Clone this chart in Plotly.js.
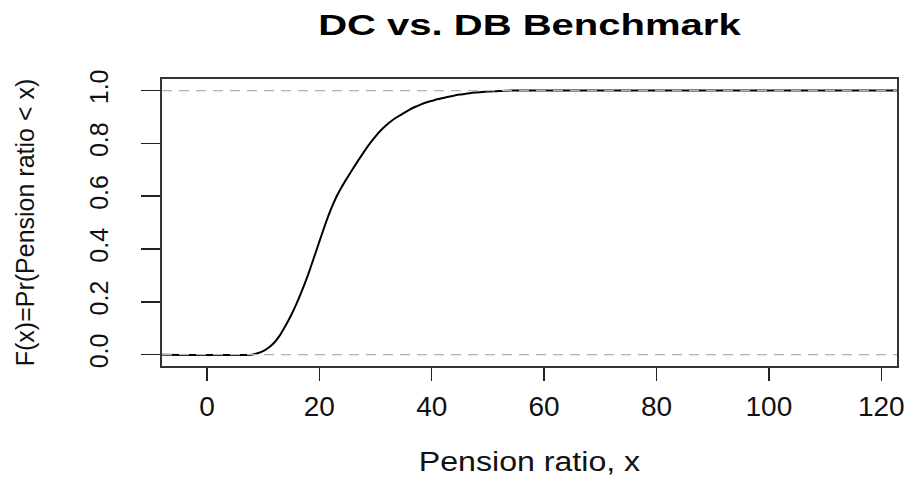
<!DOCTYPE html>
<html>
<head>
<meta charset="utf-8">
<script src="https://cdn.plot.ly/plotly-3.0.1.min.js"></script>
<style>
  html, body { margin: 0; padding: 0; background: #ffffff; }
  #chart { width: 905px; height: 477px; }
</style>
</head>
<body>
<div id="chart"></div>
<script>
// Empirical distribution of the DC/DB pension ratio, read at whole values of x
const pensionRatio = [8, 9, 10, 11, 12, 13, 14, 15, 16, 17, 18, 19, 20, 21, 22, 23, 24, 25,
  26, 27, 28, 29, 30, 31, 32, 33, 34, 35, 36, 37, 38, 39, 40, 41, 42, 43, 44, 45, 46, 47,
  48, 49, 50, 51, 52, 53, 54];
const cumulativeProb = [0.0, 0.005, 0.013, 0.027, 0.046, 0.074, 0.11, 0.15, 0.196, 0.247,
  0.303, 0.365, 0.428, 0.49, 0.547, 0.596, 0.636, 0.671, 0.705, 0.738, 0.77, 0.8, 0.827,
  0.851, 0.871, 0.888, 0.902, 0.915, 0.927, 0.938, 0.947, 0.955, 0.961, 0.967, 0.972, 0.977,
  0.981, 0.985, 0.988, 0.991, 0.993, 0.995, 0.9965, 0.9975, 0.9985, 0.9993, 1.0];

const xTicks = [0, 20, 40, 60, 80, 100, 120];
const yTicks = [0, 0.2, 0.4, 0.6, 0.8, 1.0];
const yTickText = ['0.0', '0.2', '0.4', '0.6', '0.8', '1.0'];
const referenceLevels = [0, 1];

const xRange = [-8, 122.8];
const yRange = [-0.043, 1.044];

// the step function runs flat at 0 and 1 out to the plot edges
const curveX = [xRange[0]].concat(pensionRatio, [xRange[1]]);
const curveY = [cumulativeProb[0]].concat(cumulativeProb, [cumulativeProb[cumulativeProb.length - 1]]);

const FONT = 'Liberation Sans, Arial, sans-serif';
const INK = '#111111';

const trace = {
  type: 'scatter',
  mode: 'lines',
  x: curveX,
  y: curveY,
  line: { color: '#000000', width: 2, shape: 'spline', smoothing: 0.5 },
  hoverinfo: 'skip',
  showlegend: false
};

const shapes = referenceLevels.map(level => ({
  type: 'line',
  xref: 'paper', x0: 0, x1: 1,
  yref: 'y', y0: level, y1: level,
  line: { color: '#b3b3b3', width: 1.2, dash: '10px,7px' },
  layer: 'above'
}));

const layout = {
  width: 905,
  height: 477,
  margin: { l: 162, r: 8, t: 79, b: 111, pad: 0 },
  paper_bgcolor: '#ffffff',
  plot_bgcolor: '#ffffff',
  font: { family: FONT, color: INK },
  title: {
    text: 'DC vs. DB Benchmark',
    font: { family: FONT, size: 29, color: '#000000', weight: 'bold' },
    x: 0.5, xref: 'paper', xanchor: 'center',
    y: 1 - 25 / 477, yref: 'container', yanchor: 'middle'
  },
  xaxis: {
    range: xRange,
    tickmode: 'array',
    tickvals: xTicks,
    ticks: 'outside',
    ticklen: 13,
    tickwidth: 1.5,
    tickcolor: '#222222',
    ticklabelstandoff: 2,
    tickfont: { family: FONT, size: 28, color: INK },
    showline: true, mirror: true, linecolor: '#333333', linewidth: 1.6,
    showgrid: false, zeroline: false,
    title: { text: 'Pension ratio, x', font: { family: FONT, size: 27, color: INK }, standoff: 50 }
  },
  yaxis: {
    range: yRange,
    tickmode: 'array',
    tickvals: yTicks,
    ticktext: yTickText,
    tickangle: -90,
    ticks: 'outside',
    ticklen: 19,
    tickwidth: 1.5,
    tickcolor: '#222222',
    ticklabelstandoff: 23,
    tickfont: { family: FONT, size: 25, color: INK },
    showline: true, mirror: true, linecolor: '#333333', linewidth: 1.6,
    showgrid: false, zeroline: false,
    title: { text: 'F(x)=Pr(Pension ratio < x)', font: { family: FONT, size: 25, color: INK }, standoff: 43 }
  },
  shapes: shapes
};

Plotly.newPlot('chart', [trace], layout, { staticPlot: true, displayModeBar: false }).then(gd => {
  // the title and x label are set a little wide, as in the printed figure
  const widen = (selector, factor) => {
    const el = gd.querySelector(selector);
    if (!el) return;
    el.style.transformBox = 'fill-box';
    el.style.transformOrigin = 'center';
    el.style.transform = 'scaleX(' + factor + ')';
  };
  widen('.gtitle', 1.38);
  widen('.xtitle', 1.19);
});
</script>
</body>
</html>
